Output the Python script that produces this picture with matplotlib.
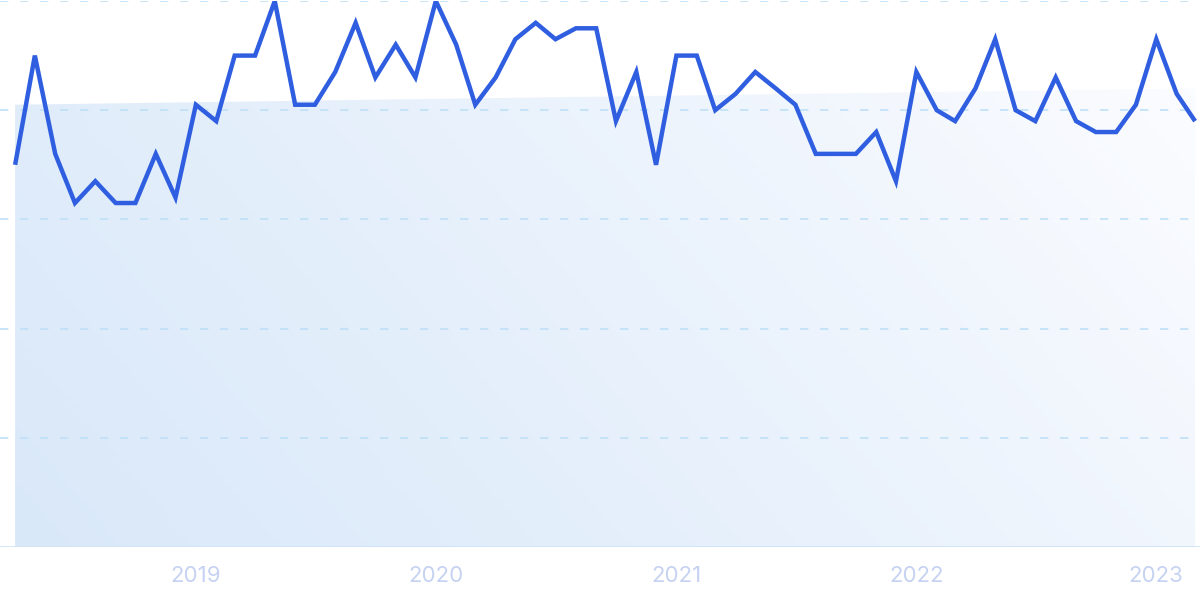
import numpy as np
import pandas as pd
import matplotlib
matplotlib.use("Agg")
import matplotlib.pyplot as plt
import matplotlib.dates as mdates
from matplotlib.colors import LinearSegmentedColormap
from matplotlib.patches import Polygon

plt.rcParams['font.family'] = ['Inter', 'DejaVu Sans']

# ---- data ----
start_month = '2018-04-01'
values = [70, 90, 72, 63, 67, 63, 63, 72, 64, 81,
          78, 90, 90, 100, 81, 81, 87, 96, 86, 92,
          86, 100, 92, 81, 86, 93, 96, 93, 95, 95,
          78, 87, 70, 90, 90, 80, 83, 87, 84, 81,
          72, 72, 72, 76, 67, 87, 80, 78, 84, 93,
          80, 78, 86, 78, 76, 76, 81, 93, 83, 78]
trend = [81, 84]          # trend line start/end values
year_ticks = ['2019', '2020', '2021', '2022', '2023']
y_grid = [20, 40, 60, 80, 100]

dates = pd.date_range(start_month, periods=len(values), freq='MS')
xd = mdates.date2num(dates)

fig = plt.figure(figsize=(12, 5.99), dpi=100)
ax = fig.add_axes([0, 52/599, 1, 546/599])

x0 = xd[0] - 23
x1 = xd[-1] + 7.5
ax.set_xlim(x0, x1)
ax.set_ylim(0, 100)

# gradient fill under trend line
cmap = LinearSegmentedColormap.from_list('g', ['#d9e8f9', '#e8f1fc', '#fbfcff'])
nx, ny = 300, 150
gx = np.linspace(0, 1, nx)
gy = np.linspace(0, 1, ny)
GX, GY = np.meshgrid(gx, gy)
grad = (GX * 0.75 + (1 - GY) * 0.25)
top = max(trend)
im = ax.imshow(grad, extent=[xd[0], xd[-1], 0, top], origin='upper',
               cmap=cmap, aspect='auto', zorder=1, vmin=0, vmax=1)
poly = Polygon([[xd[0], 0], [xd[0], trend[0]], [xd[-1], trend[1]], [xd[-1], 0]],
               closed=True, facecolor='none', edgecolor='none')
ax.add_patch(poly)
im.set_clip_path(poly)

# gridlines
for g in y_grid:
    ax.axhline(g, color='#bfe0f7', lw=1.2, ls=(0, (5, 7)), zorder=2)
ax.axhline(0, color='#cfe3f7', lw=2, zorder=2)

# line
ax.plot(xd, values, color='#2f5fe0', lw=3.2, zorder=3,
        solid_joinstyle='miter', solid_capstyle='butt', clip_on=True)

# ticks
tick_pos = [mdates.date2num(pd.Timestamp(f'{y}-01-01')) for y in year_ticks]
ax.set_xticks(tick_pos)
ax.set_xticklabels(year_ticks, color='#c6d2f2', fontsize=16)
ax.tick_params(axis='x', length=0, pad=14)
ax.set_yticks([])
for s in ax.spines.values():
    s.set_visible(False)

fig.savefig('out.png', dpi=100, facecolor='white')
